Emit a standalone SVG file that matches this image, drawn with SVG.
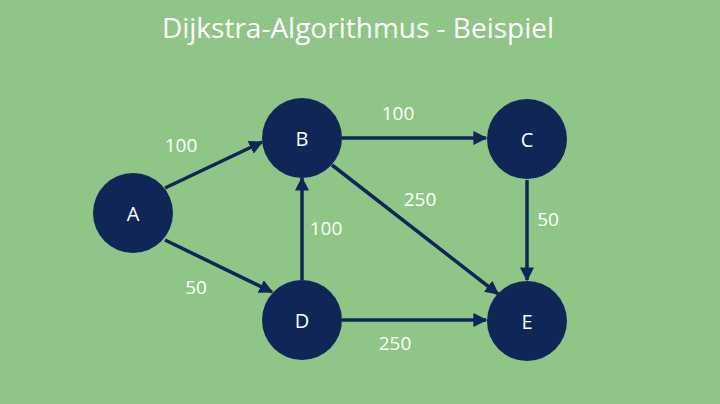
<svg xmlns="http://www.w3.org/2000/svg" width="720" height="404" viewBox="0 0 720 404">
<style>
.n{fill:#0f2657}
.nt{fill:#fff;font-family:"Open Sans",sans-serif;font-size:20px;text-anchor:middle;dominant-baseline:central}
.e{stroke:#0f2657;stroke-width:3.5;fill:none;marker-end:url(#ah)}
.l{fill:#fff;font-family:"Open Sans",sans-serif;font-size:19px;text-anchor:middle;dominant-baseline:central}
</style>
<defs><marker id="ah" viewBox="0 0 10 10" refX="9" refY="5" markerWidth="4" markerHeight="4" orient="auto" markerUnits="strokeWidth"><path d="M0,0L10,5L0,10z" fill="#0f2657"/></marker></defs>
<rect width="720" height="404" fill="#8fc587"/>
<text x="358" y="27" fill="#fff" font-family="Open Sans,sans-serif" font-size="28" text-anchor="middle" dominant-baseline="central">Dijkstra-Algorithmus - Beispiel</text>
<g id="edges">
<line class="e" x1="165" y1="188" x2="262" y2="142"/>
<line class="e" x1="165" y1="240" x2="272" y2="292"/>
<line class="e" x1="342" y1="138" x2="486" y2="138"/>
<line class="e" x1="332" y1="165" x2="498" y2="294"/>
<line class="e" x1="527" y1="180" x2="527" y2="280"/>
<line class="e" x1="302" y1="280" x2="302" y2="178"/>
<line class="e" x1="342" y1="320" x2="486" y2="320"/>
<text class="l" x="181" y="145">100</text>
<text class="l" x="196" y="287">50</text>
<text class="l" x="398" y="113">100</text>
<text class="l" x="420" y="199">250</text>
<text class="l" x="548" y="219">50</text>
<text class="l" x="326" y="228">100</text>
<text class="l" x="395" y="343">250</text>
</g>
<g id="A"><circle class="n" cx="133" cy="213" r="40"/><text class="nt" x="133" y="213">A</text></g>
<g id="B"><circle class="n" cx="302" cy="138" r="40"/><text class="nt" x="302" y="138">B</text></g>
<g id="C"><circle class="n" cx="527" cy="139" r="40"/><text class="nt" x="527" y="139">C</text></g>
<g id="D"><circle class="n" cx="302" cy="320" r="40"/><text class="nt" x="302" y="320">D</text></g>
<g id="E"><circle class="n" cx="527" cy="321" r="40"/><text class="nt" x="527" y="321">E</text></g>
</svg>
